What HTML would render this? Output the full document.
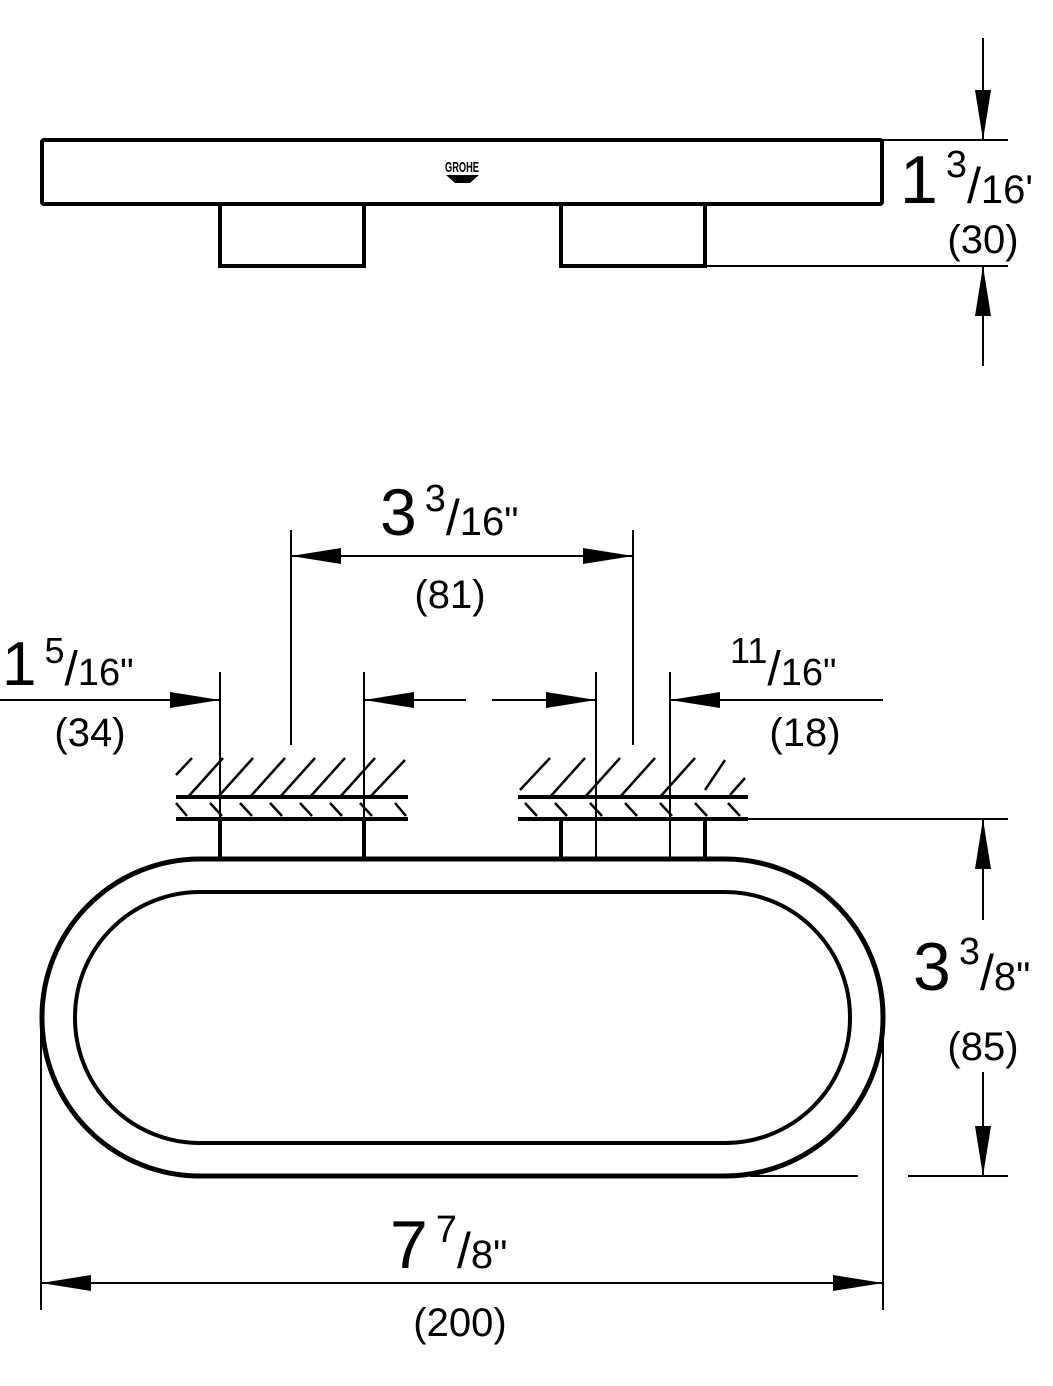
<!DOCTYPE html>
<html><head><style>html,body{margin:0;padding:0;background:#fff}svg{display:block}text{font-family:"Liberation Sans",sans-serif;fill:#000}</style></head>
<body>
<svg width="1053" height="1386" viewBox="0 0 1053 1386" xmlns="http://www.w3.org/2000/svg">
<defs>
<marker id="a" viewBox="0 0 50 16" refX="50" refY="8" markerWidth="50" markerHeight="16" markerUnits="userSpaceOnUse" orient="auto"><path d="M0,0L50,8L0,16z" fill="#000"/></marker>
</defs>
<g stroke="#000" fill="none">
<rect x="42" y="140" width="840" height="64" stroke-width="4" rx="2"/>
<path d="M220,204V266H364V204M561,204V266H705V204" stroke-width="4"/>
<path d="M882,140H1008M705,266H1008" stroke-width="2"/>
<path d="M983,38V140" stroke-width="2" marker-end="url(#a)"/>
<path d="M983,366V266" stroke-width="2" marker-end="url(#a)"/>
<path d="M291,530V745M633,530V745" stroke-width="2"/>
<path d="M460,556H291" stroke-width="2" marker-end="url(#a)"/>
<path d="M460,556H633" stroke-width="2" marker-end="url(#a)"/>
<path d="M220,672V860M364,672V860M596,672V860M670,672V860" stroke-width="2"/>
<path d="M0,700H220" stroke-width="2" marker-end="url(#a)"/>
<path d="M466,700H364" stroke-width="2" marker-end="url(#a)"/>
<path d="M492,700H596" stroke-width="2" marker-end="url(#a)"/>
<path d="M883,700H670" stroke-width="2" marker-end="url(#a)"/>
<path d="M176,797H408M176,819H408M518,797H748M518,819H748" stroke-width="4"/>
<path d="M748,819H1008" stroke-width="2"/>
<g stroke-width="2.5">
<path d="M176,775L192,758M188,797L223,758M218,797L253,758M250,797L285,758M280,797L315,758M310,797L345,758M340,797L375,758M370,797L405,760"/>
<path d="M176,803L187,816M210,803L222,816M240,803L252,816M270,803L282,816M300,803L312,816M330,803L342,816M360,803L372,816M395,803L406,816"/>
<path d="M520,790L550,758M550,797L585,758M585,797L620,758M620,797L655,758M660,797L695,758M705,790L725,760M730,795L745,778"/>
<path d="M525,803L537,816M555,803L567,816M590,803L602,816M625,803L637,816M660,803L672,816M695,803L707,816M728,803L740,816"/>
</g>
<path d="M220,819V860M364,819V860M561,819V860M705,819V860" stroke-width="4"/>
<rect x="42" y="859" width="841" height="317" rx="158" ry="158" stroke-width="5"/>
<rect x="75" y="892" width="775" height="251" rx="125" ry="125" stroke-width="4"/>
<path d="M750,1176H858M908,1176H1008" stroke-width="2"/>
<path d="M983,920V819" stroke-width="2" marker-end="url(#a)"/>
<path d="M983,1072V1176" stroke-width="2" marker-end="url(#a)"/>
<path d="M41,1030V1310M883,1030V1310" stroke-width="2"/>
<path d="M460,1283H41" stroke-width="2" marker-end="url(#a)"/>
<path d="M460,1283H883" stroke-width="2" marker-end="url(#a)"/>
</g>
<text x="462" y="172" font-size="15" font-weight="bold" text-anchor="middle" textLength="34" lengthAdjust="spacingAndGlyphs">GROHE</text>
<path d="M446,175H479L470,183H455z" fill="#000"/>
<text x="900" y="203" font-size="68">1<tspan font-size="38" dy="-26" dx="8">3</tspan><tspan font-size="50" dy="26">/</tspan><tspan font-size="40">16'</tspan></text>
<text x="983" y="253" font-size="40" text-anchor="middle">(30)</text>
<text x="380" y="535" font-size="66">3<tspan font-size="38" dy="-24" dx="8">3</tspan><tspan font-size="50" dy="24">/</tspan><tspan font-size="40">16"</tspan></text>
<text x="450" y="608" font-size="40" text-anchor="middle">(81)</text>
<text x="2" y="685" font-size="62">1<tspan font-size="36" dy="-22" dx="8">5</tspan><tspan font-size="48" dy="22">/</tspan><tspan font-size="38">16"</tspan></text>
<text x="90" y="746" font-size="40" text-anchor="middle">(34)</text>
<text x="730" y="685" font-size="38"><tspan font-size="36" dy="-22">11</tspan><tspan font-size="48" dy="22">/</tspan>16"</text>
<text x="805" y="746" font-size="40" text-anchor="middle">(18)</text>
<text x="913" y="990" font-size="68">3<tspan font-size="38" dy="-26" dx="8">3</tspan><tspan font-size="50" dy="26">/</tspan><tspan font-size="40">8"</tspan></text>
<text x="983" y="1060" font-size="40" text-anchor="middle">(85)</text>
<text x="390" y="1268" font-size="68">7<tspan font-size="38" dy="-26" dx="8">7</tspan><tspan font-size="50" dy="26">/</tspan><tspan font-size="40">8"</tspan></text>
<text x="460" y="1336" font-size="40" text-anchor="middle">(200)</text>
</svg>
</body></html>
